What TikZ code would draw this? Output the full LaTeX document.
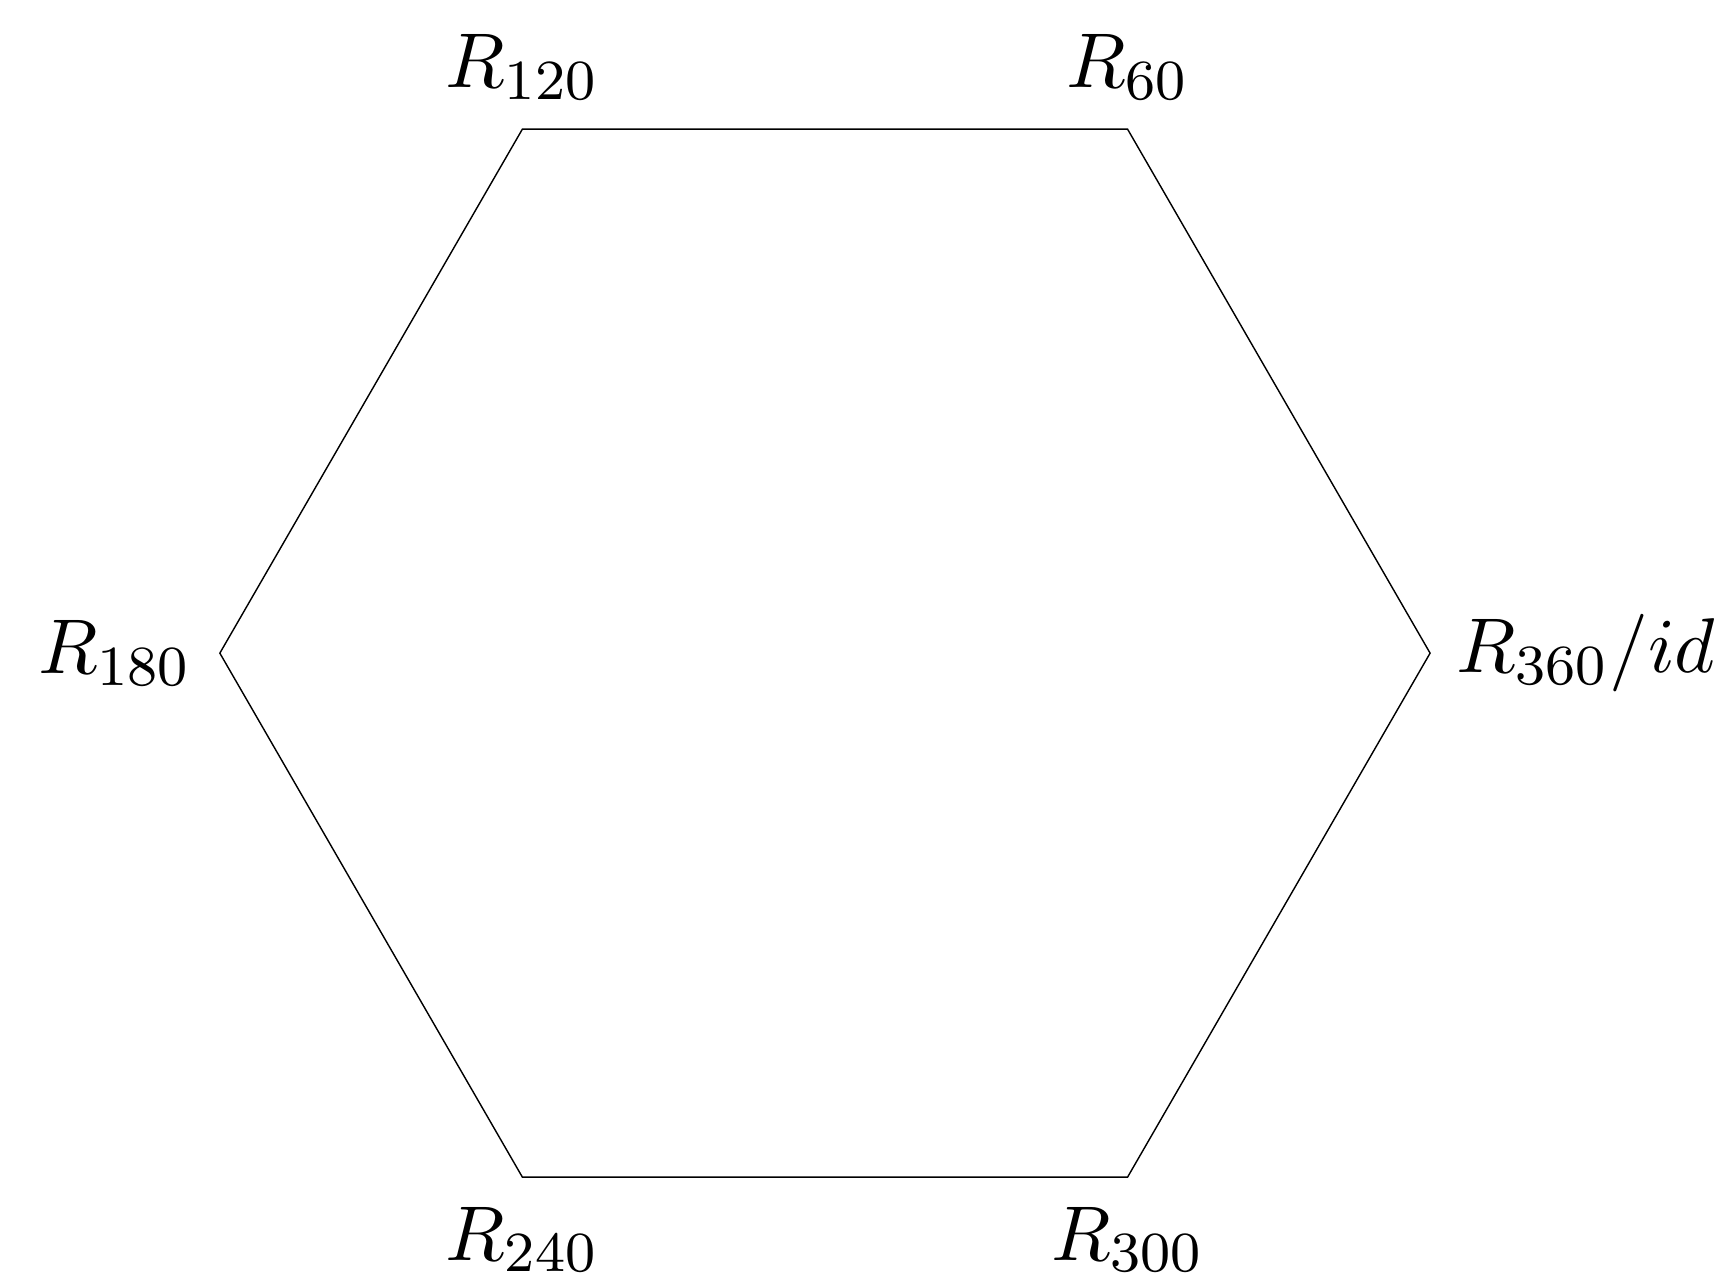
\documentclass[tikz,border=0pt]{standalone}
\usepackage{amsmath}
\usepackage{amssymb}
\usetikzlibrary{positioning}
\tikzstyle{hex-edge} = [draw=black, line width=0.2pt]
\tikzstyle{rot-label} = [font=\fontsize{11.4pt}{13pt}\selectfont, inner sep=2pt]

\begin{document}
\begin{tikzpicture}
\useasboundingbox (-4.09,-3.114) rectangle (4.457,3.238);
\coordinate (r0) at (0:3);
\coordinate (r60) at (60:3);
\coordinate (r120) at (120:3);
\coordinate (r180) at (180:3);
\coordinate (r240) at (240:3);
\coordinate (r300) at (300:3);
\draw[hex-edge] (r0) -- (r60) -- (r120) -- (r180) -- (r240) -- (r300) -- cycle;
\node[rot-label, right=1.5pt of r0] (lab0) {$R_{360}/id$};
\node[rot-label, above=2pt of r60] (lab60) {$R_{60}$};
\node[rot-label, above=2pt of r120] (lab120) {$R_{120}$};
\node[rot-label, left=1.8pt of r180] (lab180) {$R_{180}$};
\node[rot-label, below=2pt of r240] (lab240) {$R_{240}$};
\node[rot-label, below=2pt of r300] (lab300) {$R_{300}$};
\end{tikzpicture}
\end{document}
